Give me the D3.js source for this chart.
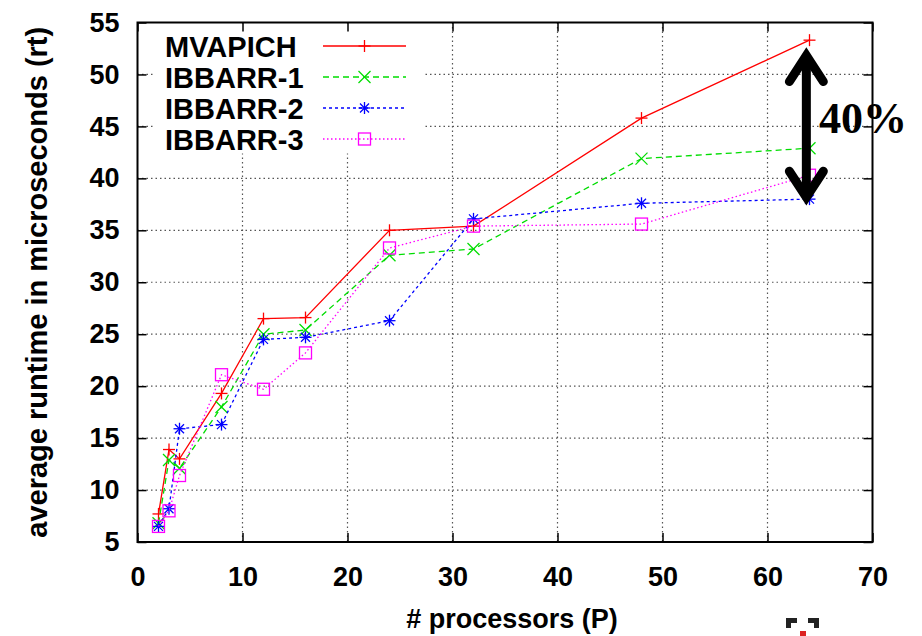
<!DOCTYPE html>
<html><head><meta charset="utf-8">
<script src="https://cdn.jsdelivr.net/npm/d3@7"></script>
<style>
html,body{margin:0;padding:0;background:#fff;}
svg{display:block;}
</style></head>
<body>
<svg id="chart" width="922" height="636"></svg>
<script>
const processors = [2, 3, 4, 8, 12, 16, 24, 32, 48, 64];
const seriesNames = ["MVAPICH", "IBBARR-1", "IBBARR-2", "IBBARR-3"];
const mvapich = [7.7, 13.9, 13.0, 19.3, 26.5, 26.6, 35.0, 35.4, 45.8, 53.3];
const ibbarr1 = [6.8, 12.9, 12.1, 18.0, 25.0, 25.4, 32.6, 33.2, 41.9, 42.9];
const ibbarr2 = [6.5, 8.2, 15.9, 16.3, 24.5, 24.7, 26.3, 36.1, 37.6, 38.0];
const ibbarr3 = [6.5, 8.0, 11.4, 21.1, 19.7, 23.2, 33.3, 35.4, 35.6, 40.3];
const xTicks = [0, 10, 20, 30, 40, 50, 60, 70];
const yTicks = [5, 10, 15, 20, 25, 30, 35, 40, 45, 50, 55];
const xTitle = "# processors (P)";
const yTitle = "average runtime in microseconds (rt)";
const annotation = "40%";
const arrowX = 63.7, arrowTop = 52.2, arrowBottom = 37.8;

const svg = d3.select("#chart");
const L = 137.5, R = 872.5, T = 22.5, B = 542;
const x = d3.scaleLinear().domain([0, 70]).range([L, R]);
const y = d3.scaleLinear().domain([5, 55]).range([B, T]);
const sans = "'Liberation Sans', Arial, Helvetica, sans-serif";

// grid
const g = svg.append("g");
g.selectAll(".gx").data(xTicks.slice(1, -1)).enter().append("line")
  .attr("x1", d => x(d)).attr("x2", d => x(d)).attr("y1", T).attr("y2", B)
  .attr("stroke", "#555").attr("stroke-width", 1.2).attr("stroke-dasharray", "1.5,3");
g.selectAll(".gy").data(yTicks.slice(1, -1)).enter().append("line")
  .attr("y1", d => y(d)).attr("y2", d => y(d)).attr("x1", L).attr("x2", R)
  .attr("stroke", "#555").attr("stroke-width", 1.2).attr("stroke-dasharray", "1.5,3");

// legend background
svg.append("rect").attr("x", 155).attr("y", T + 1).attr("width", 268).attr("height", 130).attr("fill", "#fff");

// axes (inward ticks on all four sides)
const tick = 9;
const axB = svg.append("g").attr("transform", `translate(0,${B})`)
  .call(d3.axisBottom(x).tickValues(xTicks).tickSizeInner(-tick).tickSizeOuter(0).tickPadding(25).tickFormat(d3.format("d")));
const axT = svg.append("g").attr("transform", `translate(0,${T})`)
  .call(d3.axisTop(x).tickValues(xTicks).tickSizeInner(-tick).tickSizeOuter(0).tickFormat(""));
const axL = svg.append("g").attr("transform", `translate(${L},0)`)
  .call(d3.axisLeft(y).tickValues(yTicks).tickSizeInner(-tick).tickSizeOuter(0).tickPadding(18).tickFormat(d3.format("d")));
const axR = svg.append("g").attr("transform", `translate(${R},0)`)
  .call(d3.axisRight(y).tickValues(yTicks).tickSizeInner(-tick).tickSizeOuter(0).tickFormat(""));
[axB, axT, axL, axR].forEach(a => {
  a.select(".domain").remove();
  a.selectAll(".tick line").attr("stroke", "#000").attr("stroke-width", 1.5);
  a.selectAll("text").attr("font-family", sans).attr("font-size", 27).attr("font-weight", "bold").attr("fill", "#000");
});
axB.selectAll("text").attr("dy", "0.71em");
svg.append("rect").attr("x", L).attr("y", T).attr("width", R - L).attr("height", B - T)
  .attr("fill", "none").attr("stroke", "#000").attr("stroke-width", 2);

// series
const styles = [
  {data: mvapich, color: "#ff0000", dash: null, marker: "plus"},
  {data: ibbarr1, color: "#00dd00", dash: "6,4", marker: "cross"},
  {data: ibbarr2, color: "#0000ff", dash: "3,3", marker: "star"},
  {data: ibbarr3, color: "#ff00ff", dash: "1.5,2.5", marker: "square"}
];
const ms = 6;
function drawMarker(sel, type, color, cx, cy) {
  const gg = sel.append("g").attr("transform", `translate(${cx},${cy})`)
    .attr("stroke", color).attr("stroke-width", 1.3).attr("fill", "none");
  if (type === "plus" || type === "star") {
    gg.append("line").attr("x1", -ms).attr("x2", ms).attr("y1", 0).attr("y2", 0);
    gg.append("line").attr("x1", 0).attr("x2", 0).attr("y1", -ms).attr("y2", ms);
  }
  if (type === "cross" || type === "star") {
    const k = type === "star" ? ms * 0.75 : ms;
    gg.append("line").attr("x1", -k).attr("x2", k).attr("y1", -k).attr("y2", k);
    gg.append("line").attr("x1", -k).attr("x2", k).attr("y1", k).attr("y2", -k);
  }
  if (type === "square") {
    gg.append("rect").attr("x", -ms).attr("y", -ms).attr("width", 2 * ms).attr("height", 2 * ms);
  }
}
const line = d3.line().x((d, i) => x(processors[i])).y(d => y(d));
styles.forEach(s => {
  svg.append("path").datum(s.data).attr("d", line).attr("fill", "none")
    .attr("stroke", s.color).attr("stroke-width", 1.3).attr("stroke-dasharray", s.dash);
  s.data.forEach((v, i) => drawMarker(svg, s.marker, s.color, x(processors[i]), y(v)));
});

// legend
const legY = [46, 77, 108, 139];
styles.forEach((s, i) => {
  svg.append("text").attr("x", 165).attr("y", legY[i] + 10.5).text(seriesNames[i])
    .attr("font-family", sans).attr("font-size", 29).attr("font-weight", "bold").attr("fill", "#000");
  svg.append("line").attr("x1", 323).attr("x2", 406).attr("y1", legY[i]).attr("y2", legY[i])
    .attr("stroke", s.color).attr("stroke-width", 1.3).attr("stroke-dasharray", s.dash);
  drawMarker(svg, s.marker, s.color, 364.5, legY[i]);
});

// arrow annotation
const ax = x(arrowX), at = y(arrowTop), ab = y(arrowBottom);
const arrow = svg.append("g").attr("stroke", "#000").attr("fill", "none").attr("stroke-width", 9).attr("stroke-linejoin", "miter");
arrow.append("line").attr("x1", ax).attr("x2", ax).attr("y1", at + 4).attr("y2", ab - 4);
arrow.append("path").attr("d", `M${ax - 17},${at + 30}L${ax},${at + 4}L${ax + 17},${at + 30}`).attr("stroke-linecap", "round");
arrow.append("path").attr("d", `M${ax - 17},${ab - 30}L${ax},${ab - 4}L${ax + 17},${ab - 30}`).attr("stroke-linecap", "round");
svg.append("text").attr("x", 819).attr("y", 133).text(annotation)
  .attr("font-family", "'Liberation Serif', 'Times New Roman', serif").attr("font-weight", "bold")
  .attr("font-size", 44).attr("fill", "#000");

// titles
svg.append("text").attr("x", 512).attr("y", 628).attr("text-anchor", "middle").text(xTitle)
  .attr("font-family", sans).attr("font-size", 27).attr("font-weight", "bold").attr("fill", "#000");
svg.append("text").attr("transform", `translate(47,${(T + B) / 2}) rotate(-90)`).attr("text-anchor", "middle").text(yTitle)
  .attr("font-family", sans).attr("font-size", 29).attr("font-weight", "bold").attr("fill", "#000");

// small corner mark at bottom right
const mark = svg.append("g");
mark.append("path").attr("d", "M786,618H797V623H791V628H786Z").attr("fill", "#222");
mark.append("path").attr("d", "M819,618H808V623H814V628H819Z").attr("fill", "#222");
mark.append("rect").attr("x", 800).attr("y", 631).attr("width", 6).attr("height", 5).attr("fill", "#d22");
</script>
</body></html>
